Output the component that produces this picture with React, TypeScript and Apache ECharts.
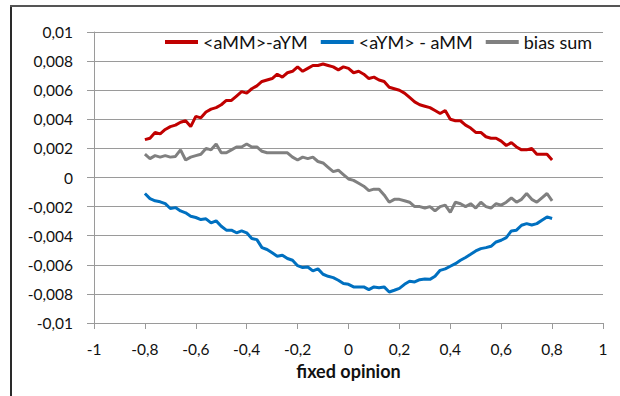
import React, { useEffect, useRef } from "react";
import * as echarts from "echarts";

const X = [
  -0.8, -0.78, -0.76, -0.74, -0.72, -0.7, -0.68, -0.66, -0.64, -0.62,
  -0.6, -0.58, -0.56, -0.54, -0.52, -0.5, -0.48, -0.46, -0.44, -0.42,
  -0.4, -0.38, -0.36, -0.34, -0.32, -0.3, -0.28, -0.26, -0.24, -0.22,
  -0.2, -0.18, -0.16, -0.14, -0.12, -0.1, -0.08, -0.06, -0.04, -0.02,
  0, 0.02, 0.04, 0.06, 0.08, 0.1, 0.12, 0.14, 0.16, 0.18,
  0.2, 0.22, 0.24, 0.26, 0.28, 0.3, 0.32, 0.34, 0.36, 0.38,
  0.4, 0.42, 0.44, 0.46, 0.48, 0.5, 0.52, 0.54, 0.56, 0.58,
  0.6, 0.62, 0.64, 0.66, 0.68, 0.7, 0.72, 0.74, 0.76, 0.78, 0.8,
];

const RED = [
  0.0026, 0.0027, 0.0031, 0.003, 0.0033, 0.0035, 0.0036, 0.0038, 0.0039, 0.0035,
  0.0042, 0.0041, 0.0045, 0.0047, 0.0048, 0.005, 0.0053, 0.0053, 0.0056, 0.0059,
  0.0058, 0.0061, 0.0063, 0.0066, 0.0067, 0.0068, 0.0071, 0.0069, 0.0072, 0.0073,
  0.0076, 0.0073, 0.0075, 0.0077, 0.0077, 0.0078, 0.0077, 0.0076, 0.0074, 0.0076,
  0.0075, 0.0072, 0.0073, 0.0071, 0.0068, 0.0069, 0.0067, 0.0066, 0.0062, 0.0061,
  0.006, 0.0058, 0.0055, 0.0052, 0.005, 0.0049, 0.0048, 0.0046, 0.0044, 0.0046,
  0.004, 0.0039, 0.0039, 0.0036, 0.0034, 0.0031, 0.0031, 0.0028, 0.0027, 0.0027,
  0.0025, 0.0022, 0.0024, 0.0021, 0.0019, 0.0019, 0.002, 0.0016, 0.0016, 0.0016, 0.0012,
];

const BLUE = [
  -0.0011, -0.00145, -0.0016, -0.00167, -0.0018, -0.00213, -0.00207, -0.0023, -0.00243, -0.00266,
  -0.00275, -0.00289, -0.00284, -0.00312, -0.00298, -0.00335, -0.00362, -0.00362, -0.0038, -0.00367,
  -0.0038, -0.00419, -0.00427, -0.00482, -0.00495, -0.00518, -0.00541, -0.00534, -0.00557, -0.00569,
  -0.00606, -0.00619, -0.00615, -0.00642, -0.00628, -0.00665, -0.00679, -0.00688, -0.00706, -0.00729,
  -0.00734, -0.00752, -0.00752, -0.00752, -0.00771, -0.00752, -0.00757, -0.00752, -0.00787, -0.00775,
  -0.00762, -0.00734, -0.00713, -0.00718, -0.00702, -0.00697, -0.007, -0.00679, -0.00638, -0.00628,
  -0.0061, -0.00592, -0.00569, -0.0055, -0.00528, -0.00505, -0.00489, -0.00482, -0.00473, -0.00443,
  -0.00431, -0.00413, -0.00367, -0.00362, -0.00328, -0.00317, -0.00326, -0.00317, -0.00294, -0.00271, -0.00282,
];

const GRAY = [
  0.0016, 0.0013, 0.0015, 0.0014, 0.0015, 0.0014, 0.00145, 0.0019, 0.0012, 0.0014,
  0.0015, 0.0016, 0.002, 0.0019, 0.0023, 0.0017, 0.0017, 0.0019, 0.0021, 0.0021,
  0.0023, 0.0021, 0.0021, 0.0018, 0.0017, 0.0017, 0.0017, 0.0017, 0.0017, 0.0014,
  0.0012, 0.0014, 0.0013, 0.0014, 0.0011, 0.001, 0.0007, 0.0004, 0.0005, 0.0002,
  -0.0001, -0.0002, -0.0004, -0.0006, -0.0009, -0.0008, -0.0008, -0.0012, -0.0017, -0.0015,
  -0.0015, -0.0016, -0.0017, -0.002, -0.002, -0.0021, -0.002, -0.0023, -0.002, -0.0019,
  -0.0024, -0.0017, -0.0018, -0.002, -0.0018, -0.0021, -0.0017, -0.002, -0.0021, -0.0018,
  -0.0019, -0.0017, -0.0014, -0.0017, -0.0015, -0.0011, -0.0015, -0.0017, -0.0014, -0.0011, -0.0016,
];

const SERIES_NAMES = ["<aMM>-aYM", "<aYM> - aMM", "bias sum"];
const SERIES_COLORS = ["#C00000", "#0070C0", "#808080"];
const X_TITLE = "fixed opinion";

const FONT = "Lato, 'Open Sans', sans-serif";
const TEXT = "#111111";

function fmt(v: number, digits: number): string {
  const r = Math.round(v * Math.pow(10, digits)) / Math.pow(10, digits);
  return String(r === 0 ? 0 : r).replace(".", ",");
}

export default function App() {
  const ref = useRef<HTMLDivElement>(null);

  useEffect(() => {
    document.body.style.margin = "0";
    if (!ref.current) return;
    const chart = echarts.init(ref.current, undefined, { renderer: "svg" });
    const pairs = (ys: number[]) => X.map((x, i) => [x, ys[i]]);
    const allY = [RED, BLUE, GRAY];

    chart.setOption({
      animation: false,
      backgroundColor: "#ffffff",
      grid: { left: 94, right: 17, top: 32, bottom: 73, containLabel: false },
      legend: {
        left: 165,
        top: 32,
        padding: 0,
        icon: "rect",
        itemWidth: 33,
        itemHeight: 4,
        itemGap: 13,
        textStyle: { fontFamily: FONT, fontSize: 18, color: TEXT, lineHeight: 20 },
        data: SERIES_NAMES,
      },
      xAxis: {
        type: "value",
        min: -1,
        max: 1,
        interval: 0.2,
        name: X_TITLE,
        nameLocation: "middle",
        nameGap: 34,
        nameTextStyle: { fontFamily: FONT, fontSize: 18, fontWeight: "bold", color: TEXT },
        axisLine: { show: true, onZero: false, lineStyle: { color: "#9a9a9a", width: 1 } },
        axisTick: { show: true, length: 6, lineStyle: { color: "#9a9a9a" } },
        axisLabel: {
          margin: 18,
          fontFamily: FONT,
          fontSize: 15.5,
          color: TEXT,
          formatter: (v: number) => fmt(v, 1),
        },
        splitLine: { show: false },
      },
      yAxis: {
        type: "value",
        min: -0.01,
        max: 0.01,
        interval: 0.002,
        axisLine: { show: true, onZero: false, lineStyle: { color: "#9a9a9a", width: 1 } },
        axisTick: { show: true, length: 7, lineStyle: { color: "#9a9a9a" } },
        axisLabel: {
          margin: 21,
          fontFamily: FONT,
          fontSize: 15.5,
          color: TEXT,
          formatter: (v: number) => fmt(v, 3),
        },
        splitLine: { show: true, lineStyle: { color: "#9a9a9a", width: 1 } },
      },
      series: SERIES_NAMES.map((name, k) => ({
        name,
        type: "line",
        data: pairs(allY[k]),
        showSymbol: false,
        symbol: "none",
        lineStyle: { width: 3, color: SERIES_COLORS[k] },
        itemStyle: { color: SERIES_COLORS[k] },
      })),
      graphic: [
        {
          type: "line",
          shape: { x1: 11, y1: 6, x2: 11, y2: 396 },
          style: { stroke: "#2a2a2a", lineWidth: 2 },
        },
        {
          type: "line",
          shape: { x1: 10, y1: 6, x2: 620, y2: 6 },
          style: { stroke: "#555555", lineWidth: 2 },
        },
      ],
    });

    return () => chart.dispose();
  }, []);

  return <div ref={ref} style={{ width: 620, height: 396 }} />;
}
